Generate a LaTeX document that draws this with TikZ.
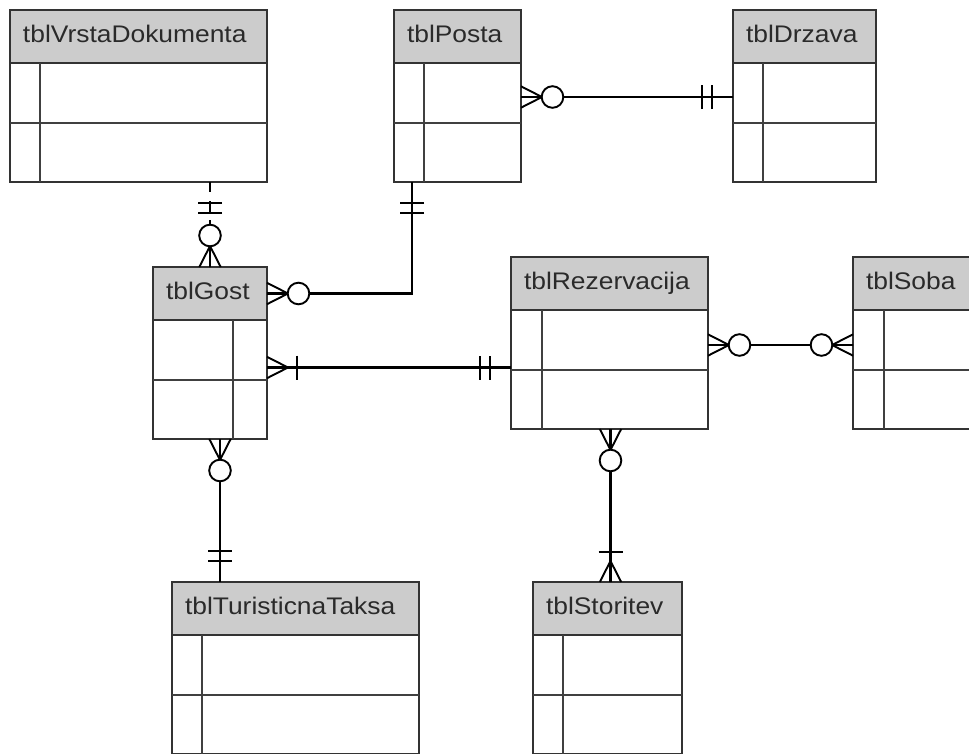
\documentclass[tikz,border=0pt]{standalone}
\usepackage{fontspec}
\newfontfamily\tblfont[FakeStretch=1.1]{Liberation Sans}

\definecolor{tblgray}{HTML}{CCCCCC}
\definecolor{tblline}{HTML}{333333}
\definecolor{tblinner}{HTML}{404040}
\definecolor{tbltext}{HTML}{2A2A2A}

%% crow's foot, drawn from the table edge outwards along +x
\newcommand{\erFoot}{\draw[markline] (0,-10.7) -- (21,0) -- (0,10.7) (0,0) -- (21,0);}

\tikzset{
  tblhead/.style={draw=tblline, fill=tblgray, line width=1.8pt, anchor=north west,
    outer sep=0pt, minimum height=53pt, inner xsep=13pt, inner ysep=0pt,
    text height=17pt, text depth=5pt, align=left, text=tbltext,
    font=\tblfont\fontsize{24}{28}\selectfont},
  tblbody/.style={draw=tblline, fill=white, line width=1.8pt, anchor=north west,
    outer sep=0pt, minimum height=119pt, inner sep=0pt},
  tblrule/.style={draw=tblinner, line width=1.7pt},
  conn/.style={line width=2.2pt},
  brokenline/.style={conn, dash pattern=on 10pt off 9pt on 13pt off 6pt on 80pt},
  markline/.style={line width=1.9pt},
  markbar/.style={line width=2.4pt},
  pics/zeromany/.style={code={
    \erFoot
    \draw[markline, fill=white] (31.5,0) circle (10.8);}},
  pics/onemany/.style={code={
    \erFoot
    \draw[markbar] (30,-12) -- (30,12);}},
  pics/onlyone/.style={code={
    \draw[markbar] (21,-12) -- (21,12) (31,-12) -- (31,12);}}
}

%% name, x, y, width, key column, title
\newcommand{\erTable}[6]{%
  \pgfmathsetmacro\tblTextW{#4-26}
  \node[tblhead, minimum width=#4pt, text width=\tblTextW pt] (#1) at (#2,#3) {#6};
  \node[tblbody, minimum width=#4pt] (#1-body) at (#1.south west) {};
  \draw[tblrule] ([yshift=-60pt]#1-body.north west) -- ([yshift=-60pt]#1-body.north east);
  \draw[tblrule] ([xshift=#5pt]#1-body.north west) -- ([xshift=#5pt]#1-body.south west);
}

\begin{document}
\begin{tikzpicture}[x=1pt, y=-1pt]
  \useasboundingbox (0,0) rectangle (969,753);
  \clip (0,0) rectangle (969,753);

  %% tables
  \erTable{vrsta}{10}{10}{257}{30}{tblVrstaDokumenta}
  \erTable{posta}{394}{10}{127}{30}{tblPosta}
  \erTable{drzava}{733}{10}{143}{30}{tblDrzava}
  \erTable{gost}{153}{267}{114}{80}{tblGost}
  \erTable{rez}{511}{257}{197}{31}{tblRezervacija}
  \erTable{soba}{853}{257}{140}{31}{tblSoba}
  \erTable{taksa}{172}{582}{247}{30}{tblTuristicnaTaksa}
  \erTable{storitev}{533}{582}{149}{30}{tblStoritev}

  %% relationships
  \draw[brokenline] (gost.north |- vrsta-body.south) -- (gost.north);
  \draw[conn] ([xshift=18pt]posta-body.south west) |- (gost.east);
  \draw[conn] ([yshift=-34pt]posta-body.north east) -- ([yshift=-34pt]drzava-body.north west);
  \draw[conn] ([yshift=2pt]rez-body.west) -- ([yshift=2pt]rez-body.west -| gost-body.east);
  \draw[conn] ([yshift=-35pt]rez-body.north east) -- ([yshift=-35pt]soba-body.north west);
  \draw[conn] ([xshift=48pt]taksa.north west |- gost-body.south) -- ([xshift=48pt]taksa.north west);
  \draw[conn] ([xshift=3pt]storitev.north |- rez-body.south) -- ([xshift=3pt]storitev.north);

  %% end marks
  \pic[rotate=-90] at (gost.north |- vrsta-body.south) {onlyone};
  \pic[rotate=90] at (gost.north) {zeromany};
  \pic[rotate=-90] at ([xshift=18pt]posta-body.south west) {onlyone};
  \pic at (gost.east) {zeromany};
  \pic at ([yshift=-34pt]posta-body.north east) {zeromany};
  \pic[rotate=180] at ([yshift=-34pt]drzava-body.north west) {onlyone};
  \pic at ([yshift=2pt]rez-body.west -| gost-body.east) {onemany};
  \pic[rotate=180] at ([yshift=2pt]rez-body.west) {onlyone};
  \pic at ([yshift=-35pt]rez-body.north east) {zeromany};
  \pic[rotate=180] at ([yshift=-35pt]soba-body.north west) {zeromany};
  \pic[rotate=-90] at ([xshift=48pt]taksa.north west |- gost-body.south) {zeromany};
  \pic[rotate=90] at ([xshift=48pt]taksa.north west) {onlyone};
  \pic[rotate=-90] at ([xshift=3pt]storitev.north |- rez-body.south) {zeromany};
  \pic[rotate=90] at ([xshift=3pt]storitev.north) {onemany};

\end{tikzpicture}
\end{document}
